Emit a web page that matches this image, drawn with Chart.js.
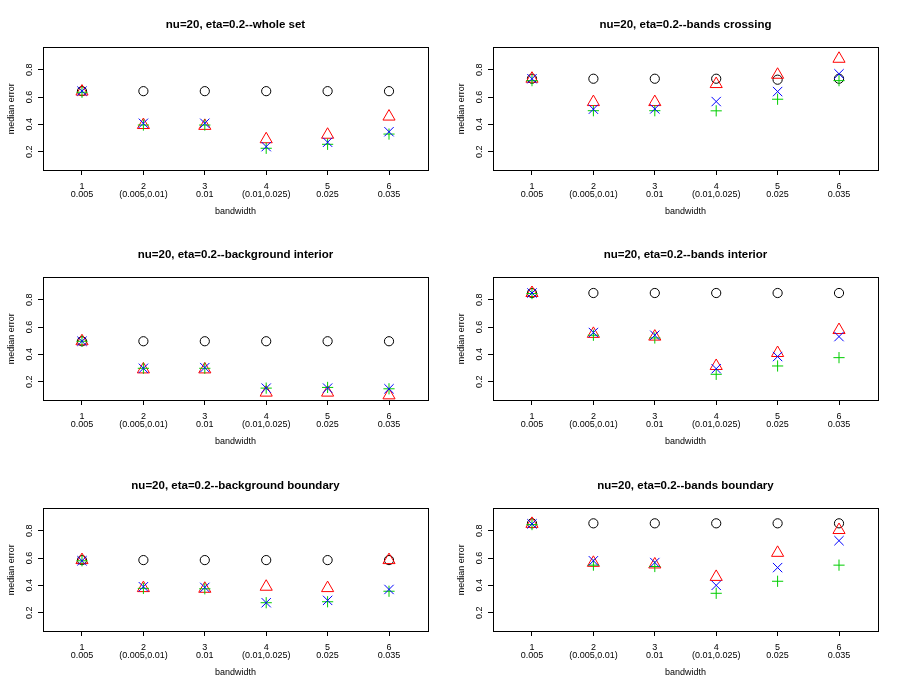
<!DOCTYPE html>
<html>
<head>
<meta charset="utf-8">
<script src="https://cdn.jsdelivr.net/npm/chart.js@4.4.0/dist/chart.umd.min.js"></script>
<style>
  html, body { margin: 0; padding: 0; background: #ffffff; }
  #wrap { position: relative; width: 900px; height: 692px; overflow: hidden; background: #fff; }
  canvas { position: absolute; }
</style>
</head>
<body>
<div id="wrap"></div>
<script>
// ---------- data ----------
const categories = [1, 2, 3, 4, 5, 6];
const bandwidthLabels = ["0.005", "(0.005,0.01)", "0.01", "(0.01,0.025)", "0.025", "0.035"];
const yTickValues = [0.2, 0.4, 0.6, 0.8];

const panelTitles = [
  "nu=20, eta=0.2--whole set",
  "nu=20, eta=0.2--bands crossing",
  "nu=20, eta=0.2--background interior",
  "nu=20, eta=0.2--bands interior",
  "nu=20, eta=0.2--background boundary",
  "nu=20, eta=0.2--bands boundary"
];

// whole set
const wholeSetBlack = [0.643, 0.643, 0.643, 0.643, 0.643, 0.643];
const wholeSetRed   = [0.640, 0.395, 0.389, 0.291, 0.324, 0.457];
const wholeSetGreen = [0.635, 0.395, 0.395, 0.225, 0.254, 0.329];
const wholeSetBlue  = [0.643, 0.408, 0.408, 0.237, 0.269, 0.346];
// bands crossing
const crossingBlack = [0.734, 0.734, 0.734, 0.734, 0.727, 0.734];
const crossingRed   = [0.734, 0.563, 0.563, 0.695, 0.763, 0.880];
const crossingGreen = [0.720, 0.500, 0.500, 0.499, 0.584, 0.720];
const crossingBlue  = [0.734, 0.511, 0.513, 0.567, 0.640, 0.770];
// background interior
const bgInteriorBlack = [0.496, 0.496, 0.496, 0.496, 0.496, 0.496];
const bgInteriorRed   = [0.496, 0.290, 0.290, 0.120, 0.120, 0.100];
const bgInteriorGreen = [0.496, 0.298, 0.298, 0.153, 0.158, 0.148];
const bgInteriorBlue  = [0.496, 0.298, 0.303, 0.153, 0.153, 0.148];
// bands interior
const bandsInteriorBlack = [0.849, 0.849, 0.849, 0.849, 0.849, 0.849];
const bandsInteriorRed   = [0.849, 0.550, 0.530, 0.315, 0.410, 0.578];
const bandsInteriorGreen = [0.845, 0.540, 0.520, 0.254, 0.315, 0.376];
const bandsInteriorBlue  = [0.849, 0.560, 0.540, 0.295, 0.384, 0.530];
// background boundary
const bgBoundaryBlack = [0.585, 0.585, 0.585, 0.585, 0.585, 0.585];
const bgBoundaryRed   = [0.585, 0.380, 0.375, 0.390, 0.380, 0.585];
const bgBoundaryGreen = [0.580, 0.378, 0.375, 0.273, 0.280, 0.357];
const bgBoundaryBlue  = [0.580, 0.390, 0.385, 0.273, 0.290, 0.370];
// bands boundary
const bandsBoundaryBlack = [0.854, 0.854, 0.854, 0.854, 0.854, 0.854];
const bandsBoundaryRed   = [0.850, 0.565, 0.553, 0.462, 0.638, 0.805];
const bandsBoundaryGreen = [0.845, 0.548, 0.538, 0.342, 0.430, 0.548];
const bandsBoundaryBlue  = [0.850, 0.580, 0.567, 0.400, 0.530, 0.727];

const panelSeries = [
  [wholeSetBlack, wholeSetRed, wholeSetGreen, wholeSetBlue],
  [crossingBlack, crossingRed, crossingGreen, crossingBlue],
  [bgInteriorBlack, bgInteriorRed, bgInteriorGreen, bgInteriorBlue],
  [bandsInteriorBlack, bandsInteriorRed, bandsInteriorGreen, bandsInteriorBlue],
  [bgBoundaryBlack, bgBoundaryRed, bgBoundaryGreen, bgBoundaryBlue],
  [bandsBoundaryBlack, bandsBoundaryRed, bandsBoundaryGreen, bandsBoundaryBlue]
];

// ---------- styles ----------
const FONT = "'Liberation Sans', Arial, Helvetica, sans-serif";
const markerStyles = [
  { pointStyle: 'circle',   radius: 4.6, color: '#000000', order: 3 },
  { pointStyle: 'triangle', radius: 7.0, color: '#FF0000', order: 2 },
  { pointStyle: 'cross',    radius: 5.6, color: '#00CD00', order: 1 },
  { pointStyle: 'crossRot', radius: 6.6, color: '#0000FF', order: 0 }
];

const boxPlugin = {
  id: 'rbox',
  afterDraw(chart) {
    const a = chart.chartArea;
    const ctx = chart.ctx;
    ctx.save();
    ctx.strokeStyle = '#000';
    ctx.lineWidth = 1;
    ctx.strokeRect(Math.round(a.left) + 0.5, Math.round(a.top) + 0.5,
                   Math.round(a.right - a.left), Math.round(a.bottom - a.top));
    ctx.restore();
  }
};

const wrap = document.getElementById('wrap');
const rowTops = [0, 230, 461];
const CANVAS_H = 231;

panelSeries.forEach((series, idx) => {
  const col = idx % 2, row = Math.floor(idx / 2);
  const cv = document.createElement('canvas');
  cv.width = 450; cv.height = CANVAS_H;
  cv.style.left = (col * 450) + 'px';
  cv.style.top = rowTops[row] + 'px';
  cv.style.width = '450px'; cv.style.height = CANVAS_H + 'px';
  wrap.appendChild(cv);

  const datasets = series.map((vals, s) => ({
    label: 'series' + (s + 1),
    data: categories.map((c, i) => ({ x: c, y: vals[i] })),
    pointStyle: markerStyles[s].pointStyle,
    pointRadius: markerStyles[s].radius,
    pointBorderColor: markerStyles[s].color,
    pointBackgroundColor: 'rgba(0,0,0,0)',
    pointBorderWidth: 1,
    showLine: false,
    order: markerStyles[s].order,
    clip: false
  }));

  new Chart(cv, {
    type: 'scatter',
    data: { datasets },
    options: {
      responsive: false,
      animation: false,
      devicePixelRatio: 1,
      layout: { padding: { left: 0, right: 22, top: 0, bottom: 0 } },
      plugins: {
        legend: { display: false },
        tooltip: { enabled: false },
        title: {
          display: true,
          text: panelTitles[idx],
          color: '#000',
          fullSize: false,
          font: { family: FONT, size: 11.5, weight: 'bold', lineHeight: 1.2 },
          padding: { top: 18.1, bottom: 15.4 }
        }
      },
      scales: {
        x: {
          type: 'linear',
          min: 0.365, max: 6.635,
          afterBuildTicks: (sc) => { sc.ticks = categories.map(v => ({ value: v })); },
          afterFit: (sc) => { sc.height = CANVAS_H - 170; },
          border: { display: false },
          grid: { display: true, drawOnChartArea: false, drawTicks: true, tickLength: 5, color: '#000', tickColor: '#000', lineWidth: 1 },
          ticks: {
            autoSkip: false, maxRotation: 0, minRotation: 0,
            color: '#000', padding: 7.9,
            font: { family: FONT, size: 9, lineHeight: 0.85 },
            callback: (v) => [String(v), bandwidthLabels[v - 1]]
          },
          title: {
            display: true, text: 'bandwidth', color: '#000',
            font: { family: FONT, size: 9, lineHeight: 1.2 },
            padding: { top: 0, bottom: 13.9 }
          }
        },
        y: {
          type: 'linear',
          min: 0.066, max: 0.964,
          afterBuildTicks: (sc) => { sc.ticks = yTickValues.map(v => ({ value: v })); },
          afterFit: (sc) => { sc.width = 43; },
          border: { display: false },
          grid: { display: true, drawOnChartArea: false, drawTicks: true, tickLength: 5, color: '#000', tickColor: '#000', lineWidth: 1 },
          ticks: {
            autoSkip: false, minRotation: 90, maxRotation: 90,
            crossAlign: 'center',
            color: '#000', padding: 2.5,
            font: { family: FONT, size: 9 },
            callback: (v) => v.toFixed(1)
          },
          title: {
            display: true, text: 'median error', color: '#000',
            font: { family: FONT, size: 9, lineHeight: 1.2 },
            padding: { top: 6.3, bottom: 0 }
          }
        }
      }
    },
    plugins: [boxPlugin]
  });
});
</script>
</body>
</html>
